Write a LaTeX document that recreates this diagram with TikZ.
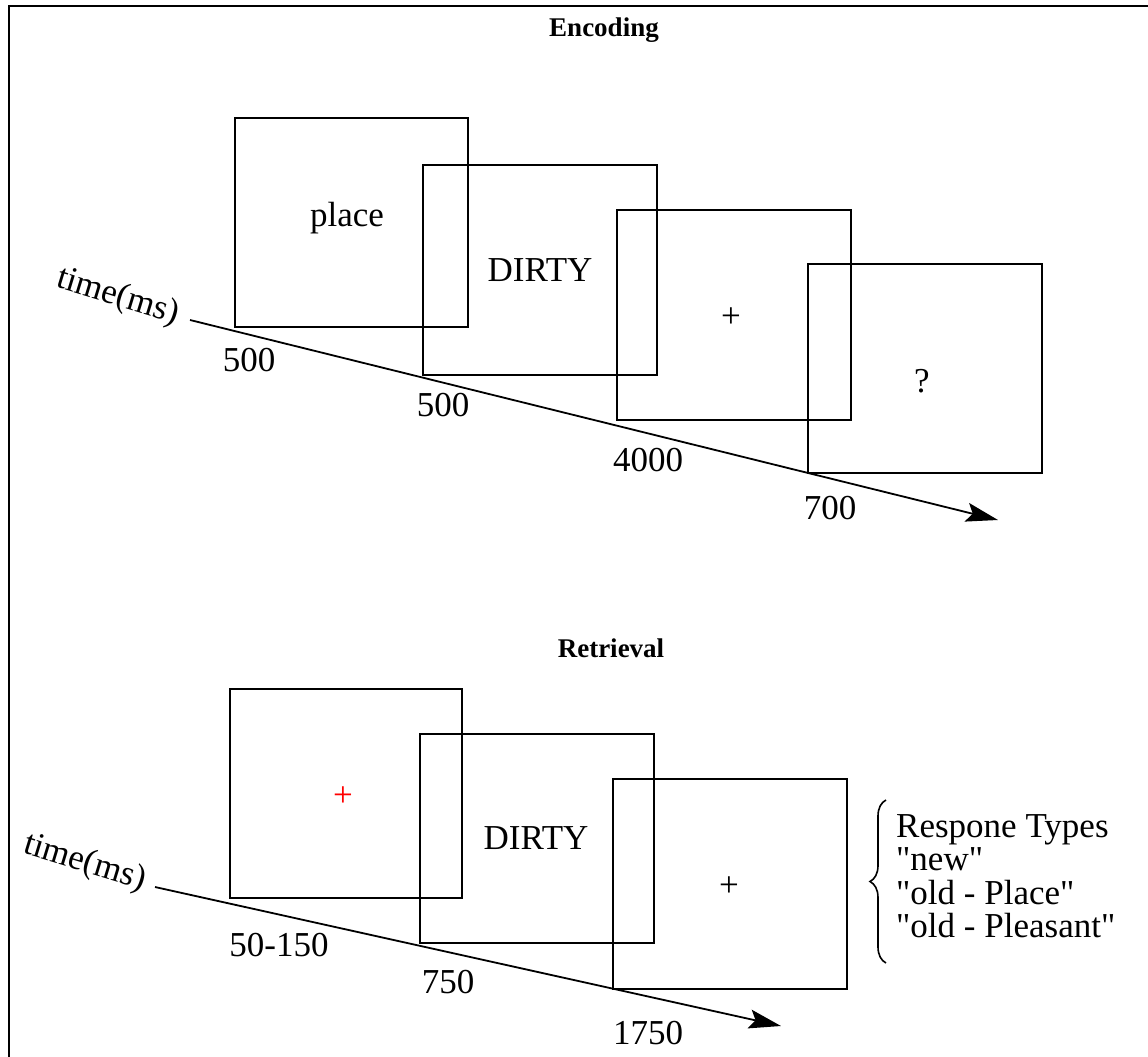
\documentclass[tikz,border=0pt]{standalone}
\usepackage{fontspec}
\setmainfont{Liberation Serif}
\usetikzlibrary{arrows.meta,decorations.pathreplacing}
\begin{document}
\begin{tikzpicture}[x=1pt,y=-1pt,
  frame/.style={draw=black,line width=2pt,inner sep=0pt},
  txt/.style={font=\fontsize{35}{40}\selectfont,inner sep=0pt},
  ttl/.style={font=\fontsize{27}{32}\selectfont\bfseries,inner sep=0pt},
  axis/.style={line width=1.8pt,-{Stealth[length=32pt,width=19pt,inset=6pt]}},
  tlab/.style={font=\fontsize{35}{40}\selectfont,inner sep=0pt,rotate=-17},
  resp/.style={font=\fontsize{35}{40}\selectfont,inner sep=0pt,anchor=base west}]
\useasboundingbox (0,0) rectangle (1148,1057);
\clip (0,0) rectangle (1148,1057);
\draw[line width=2pt] (9,6) rectangle (1170,1080);

% ---------- Encoding ----------
\node[ttl] (enc) at (604,30) {Encoding};
\coordinate (ea0) at (190,320);
\coordinate (ea1) at (998,520);
\draw[axis] (ea0) -- (ea1);
\node[tlab] (et) at (118,297) {time(ms)};

\node[frame,minimum width=233pt,minimum height=209pt] (e1) at (351.5,222.5) {};
\node[frame,minimum width=234pt,minimum height=210pt] (e2) at (540,270) {};
\node[frame,minimum width=234pt,minimum height=210pt] (e3) at (734,315) {};
\node[frame,minimum width=234pt,minimum height=209pt] (e4) at (925,368.5) {};
\node[txt] (e1t) at (347,218) {place};
\node[txt] (e2t) at (540,270) {DIRTY};
\node[txt] (e3t) at (731,318) {+};
\node[txt] (e4t) at (922,381) {?};

\node[txt] (n1) at (249,360) {500};
\node[txt] (n2) at (443,405) {500};
\node[txt] (n3) at (648,460) {4000};
\node[txt] (n4) at (830,508) {700};

% ---------- Retrieval ----------
\node[ttl] (ret) at (611,648) {Retrieval};
\coordinate (ra0) at (155,887);
\coordinate (ra1) at (781,1026);
\draw[axis] (ra0) -- (ra1);
\node[tlab] (rt) at (85,863) {time(ms)};

\node[frame,minimum width=232pt,minimum height=209pt] (r1) at (346,793.5) {};
\node[frame,minimum width=234pt,minimum height=209pt] (r2) at (537,838.5) {};
\node[frame,minimum width=234pt,minimum height=210pt] (r3) at (730,884) {};
\node[txt,text=red] (r1t) at (343,797) {+};
\node[txt] (r2t) at (536,838) {DIRTY};
\node[txt] (r3t) at (729,887) {+};

\node[txt] (m1) at (279,945) {50-150};
\node[txt] (m2) at (448,982) {750};
\node[txt] (m3) at (648,1033) {1750};

\coordinate (bb) at (886,963);
\coordinate (bt) at (886,800);
\draw[line width=1.6pt,decorate,decoration={brace,amplitude=16pt}] (bb) -- (bt);
\node[resp] (resp1) at (896,837) {Respone Types};
\node[resp] (resp2) at (896,870.5) {\textquotedbl new\textquotedbl};
\node[resp] (resp3) at (896,904) {\textquotedbl old - Place\textquotedbl};
\node[resp] (resp4) at (896,937) {\textquotedbl old - Pleasant\textquotedbl};
\end{tikzpicture}
\end{document}
